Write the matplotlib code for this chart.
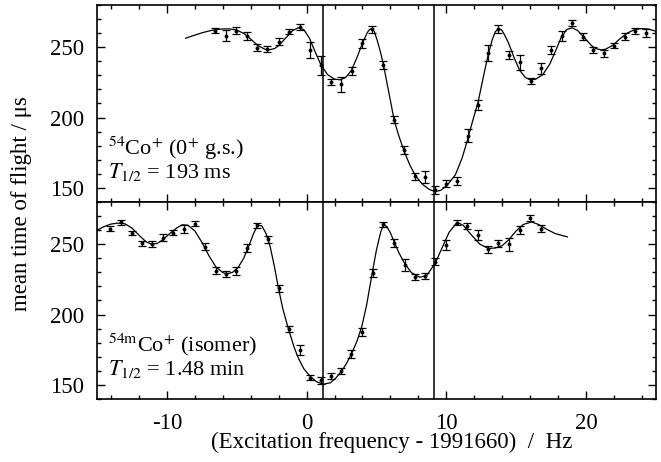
import numpy as np
import matplotlib
matplotlib.use("Agg")
import matplotlib.pyplot as plt
from matplotlib.ticker import MultipleLocator

plt.rcParams['font.family'] = ['Liberation Serif', 'DejaVu Serif']
plt.rcParams['mathtext.fontset'] = 'stix'
plt.rcParams['axes.unicode_minus'] = False

# 54Co+ ground state (top panel)
top_x = [-6.53, -5.77, -5.03, -4.29, -3.55, -2.80, -2.01, -1.29, -0.50, 0.26,
         1.00, 1.72, 2.46, 3.23, 3.97, 4.69, 5.48, 6.25, 6.98, 7.73,
         8.49, 9.21, 10.00, 10.77, 11.53, 12.25, 12.97, 13.71, 14.50, 15.26,
         16.03, 16.75, 17.52, 18.26, 19.00, 19.76, 20.48, 21.25, 22.01, 22.76,
         23.52, 24.29]
top_y = [261.8, 258.2, 261.8, 258.2, 249.7, 248.6, 253.8, 261.1, 264.2, 248.1,
         237.0, 225.4, 223.5, 233.4, 252.8, 262.8, 237.2, 198.4, 177.2, 158.2,
         157.8, 148.8, 153.0, 155.2, 187.1, 209.1, 245.7, 263.2, 244.5, 239.4,
         226.1, 235.1, 248.1, 258.2, 267.0, 257.5, 248.1, 245.7, 251.1, 257.5,
         261.6, 260.4]
top_err = [2.0, 3.9, 2.4, 2.8, 2.4, 2.0, 2.4, 2.0, 2.0, 5.9,
           6.4, 2.0, 5.3, 2.8, 3.3, 2.4, 2.8, 2.4, 2.8, 2.4,
           4.5, 2.8, 2.4, 2.8, 4.5, 3.5, 5.7, 2.8, 2.8, 5.3,
           2.0, 4.0, 2.8, 3.5, 2.0, 2.4, 2.0, 2.4, 2.0, 2.4,
           2.4, 2.8]

top_fit_x = [-8.66, -8.0, -7.5, -7.0, -6.5, -6.0, -5.5, -5.0, -4.5, -4.0,
             -3.5, -3.0, -2.7, -2.3, -2.0, -1.5, -1.0, -0.6, -0.2, 0.2,
             0.6, 1.0, 1.5, 2.0, 2.4, 2.8, 3.2, 3.6, 4.0, 4.35,
             4.5, 4.67, 4.85, 5.05, 5.3, 5.5, 5.9, 6.27, 6.6, 7.0,
             7.4, 7.8, 8.3, 8.8, 9.2, 9.6, 10.05, 10.65, 11.13, 11.48,
             11.84, 12.27, 12.68, 12.99, 13.28, 13.5, 13.75, 13.95, 14.1, 14.45,
             14.85, 15.25, 15.65, 16.0, 16.4, 16.9, 17.4, 17.8, 18.2, 18.6,
             19.0, 19.4, 19.9, 20.4, 20.7, 21.1, 21.4, 21.9, 22.4, 22.9,
             23.4, 23.9, 24.4, 24.8, 25.0]
top_fit_y = [256.4, 258.6, 260.2, 261.5, 262.5, 263.0, 263.0, 262.2, 259.8, 255.8,
             251.3, 248.6, 248.1, 249.0, 251.0, 256.5, 261.8, 263.8, 262.5, 256.5,
             247.0, 238.0, 230.5, 227.3, 226.8, 228.5, 233.5, 242.5, 253.0, 260.5,
             262.5, 263.3, 261.0, 255.0, 246.0, 237.5, 217.0, 198.0, 187.0, 175.5,
             166.0, 158.5, 152.5, 148.8, 147.4, 148.3, 151.8, 159.4, 171.3, 183.0,
             196.1, 211.0, 230.4, 244.5, 255.2, 261.0, 263.2, 262.3, 260.0, 253.0,
             242.5, 233.5, 228.5, 226.8, 227.3, 230.5, 238.0, 247.0, 256.5, 262.5,
             263.8, 261.8, 256.5, 251.0, 249.0, 248.1, 248.6, 251.3, 255.8, 259.8,
             262.2, 263.2, 263.0, 262.0, 261.2]

# 54mCo+ isomer (bottom panel)
bot_x = [-14.05, -13.28, -12.49, -11.77, -11.06, -10.29, -9.53, -8.79, -8.02, -7.25,
         -6.51, -5.74, -5.03, -4.26, -3.52, -2.78, -2.01, -1.27, -0.50, 0.26,
         1.00, 1.74, 2.46, 3.20, 3.97, 4.74, 5.50, 6.25, 7.01, 7.73,
         8.44, 9.21, 9.98, 10.77, 11.49, 12.25, 13.00, 13.71, 14.47, 15.24,
         16.01, 16.75]
bot_y = [261.1, 265.5, 258.0, 250.5, 250.0, 254.7, 258.3, 260.6, 264.6, 248.1,
         231.1, 228.8, 231.1, 247.4, 263.4, 253.5, 218.7, 189.8, 175.1, 155.2,
         153.2, 156.3, 159.8, 172.1, 187.4, 229.3, 264.1, 250.9, 235.2, 226.9,
         227.4, 237.5, 249.3, 265.3, 262.9, 256.4, 246.3, 250.5, 250.0, 259.9,
         268.6, 261.1]
bot_err = [2.0, 2.0, 1.5, 2.0, 2.0, 2.4, 2.0, 2.9, 2.0, 2.4,
           2.4, 2.4, 2.8, 2.8, 2.0, 2.4, 2.4, 2.4, 3.5, 2.0,
           2.4, 2.4, 2.0, 2.8, 2.8, 2.8, 2.0, 2.8, 4.5, 2.0,
           2.0, 2.4, 3.5, 2.0, 2.0, 3.5, 2.4, 2.4, 4.7, 2.8,
           2.0, 2.4]

bot_fit_x = [-15.0, -14.5, -14.0, -13.5, -13.0, -12.5, -12.0, -11.5, -11.1, -10.7,
             -10.3, -9.8, -9.3, -8.9, -8.5, -8.0, -7.5, -7.0, -6.5, -6.0,
             -5.7, -5.3, -4.9, -4.5, -4.1, -3.8, -3.5, -3.2, -2.9, -2.6,
             -2.3, -2.04, -1.7, -1.32, -0.9, -0.6, -0.2, 0.24, 0.7, 1.2,
             1.7, 2.1, 2.51, 2.9, 3.23, 3.6, 3.95, 4.3, 4.71, 5.0,
             5.3, 5.5, 5.75, 6.0, 6.22, 6.6, 7.01, 7.5, 8.1, 8.6,
             9.2, 9.7, 10.2, 10.77, 11.2, 11.8, 12.4, 13.0, 13.5, 14.0,
             14.5, 15.0, 15.5, 16.1, 16.6, 17.2, 17.8, 18.66]
bot_fit_y = [259.9, 262.5, 264.3, 265.0, 264.5, 261.5, 256.5, 251.8, 250.0, 250.5,
             253.0, 257.5, 261.5, 263.8, 263.5, 259.5, 251.5, 242.0, 234.0, 229.8,
             229.0, 230.0, 233.5, 240.0, 249.5, 257.5, 263.5, 263.0, 257.5, 248.0,
             234.0, 220.0, 204.0, 190.5, 177.0, 169.3, 161.5, 156.3, 152.3, 150.5,
             151.5, 155.0, 159.8, 166.0, 172.5, 181.0, 191.5, 207.0, 230.4, 246.0,
             258.5, 263.8, 262.5, 258.0, 252.8, 244.0, 236.4, 229.8, 226.5, 227.8,
             236.5, 247.5, 258.5, 265.5, 263.5, 256.5, 250.0, 247.0, 247.3, 249.0,
             253.5, 259.5, 264.0, 265.8, 264.0, 260.5, 257.5, 255.2]

res_lines = [1.2, 9.1]

fig = plt.figure(figsize=(6.61, 4.62), dpi=100)
ax_top = fig.add_axes([0.1467, 0.5628, 0.8457, 0.4264])
ax_bot = fig.add_axes([0.1467, 0.1364, 0.8457, 0.4264])

panels = [
    (ax_top, top_x, top_y, top_err, top_fit_x, top_fit_y,
     r'$^{54}$Co$^{+}$ (0$^{+}$ g.s.)', r'$T_{1/2}$ = 193 ms'),
    (ax_bot, bot_x, bot_y, bot_err, bot_fit_x, bot_fit_y,
     r'$^{\rm 54m}$Co$^{+}$ (isomer)', r'$T_{1/2}$ = 1.48 min'),
]

for ax, x, y, e, fx, fy, lab1, lab2 in panels:
    ax.plot(fx, fy, color='black', lw=0.9)
    ax.errorbar(x, y, yerr=e, fmt='o', ms=1.8, color='black',
                ecolor='black', elinewidth=0.9, capsize=2.8, capthick=0.9)
    for v in res_lines:
        ax.axvline(v, color='black', lw=1.1)
    ax.set_xlim(-15, 25)
    ax.set_ylim(140, 280)
    ax.xaxis.set_major_locator(MultipleLocator(10))
    ax.xaxis.set_minor_locator(MultipleLocator(2))
    ax.yaxis.set_major_locator(MultipleLocator(50))
    ax.yaxis.set_minor_locator(MultipleLocator(10))
    ax.tick_params(which='both', direction='in', top=True, right=True,
                   labelsize=16.5, width=1.0)
    ax.tick_params(which='major', length=6)
    ax.tick_params(which='minor', length=3)
    ax.tick_params(axis='y', pad=9)
    for s in ax.spines.values():
        s.set_linewidth(1.2)
    ax.text(-14.2, 173.5, lab1, fontsize=16)
    ax.text(-14.2, 157.3, lab2, fontsize=16)

ax_top.tick_params(labelbottom=False)
ax_bot.tick_params(axis='x', pad=10)

fig.text(0.593, 0.042, '(Excitation frequency - 1991660)  /  Hz',
         ha='center', va='center', fontsize=16.5)
fig.text(0.033, 0.56, 'mean time of flight / μs', rotation=90,
         ha='center', va='center', fontsize=16.5)

fig.savefig('out.png', dpi=100)
